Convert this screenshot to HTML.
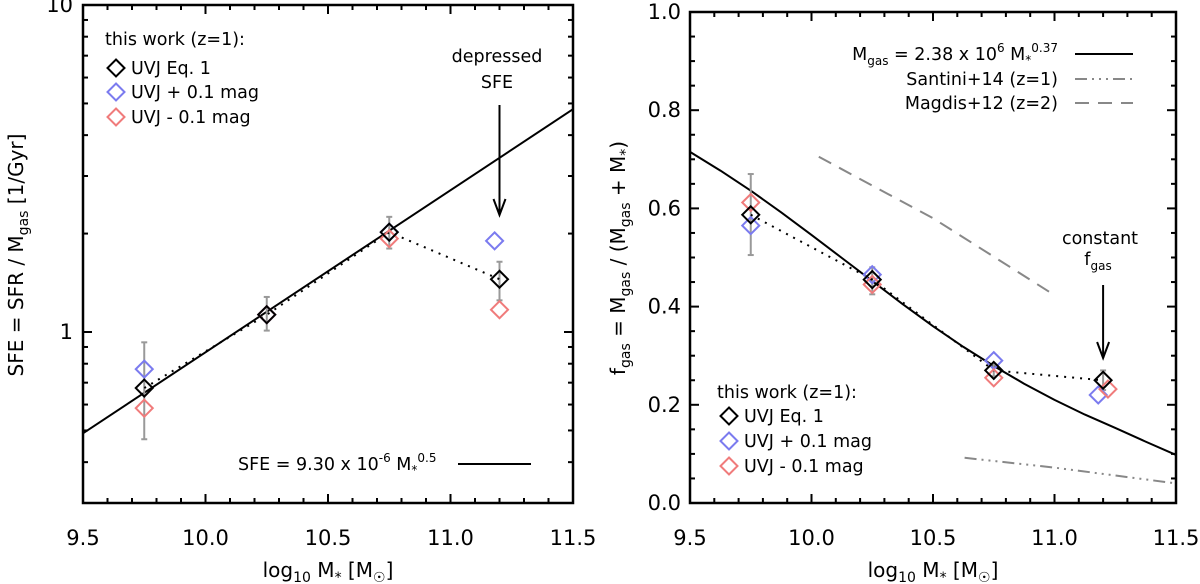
<!DOCTYPE html>
<html><head><meta charset="utf-8"><style>
html,body{margin:0;padding:0;background:#fff;}
svg{display:block;font-family:"DejaVu Sans","Liberation Sans",sans-serif;}
</style></head><body>
<svg id="c" width="1200" height="584" viewBox="0 0 1200 584" xmlns="http://www.w3.org/2000/svg">
<g id="left"></g>
<g id="right"></g>
<text transform="translate(23,255) rotate(-90)" text-anchor="middle" font-size="20">SFE = SFR / M<tspan font-size="14" dy="5">gas</tspan><tspan dy="-5"> [1/Gyr]</tspan></text>
<text x="328" y="577" text-anchor="middle" font-size="20">log<tspan font-size="14" dy="5">10</tspan><tspan dy="-5"> M</tspan><tspan font-size="14" dy="5">*</tspan><tspan dy="-5"> [M</tspan><tspan font-size="14" dy="5">☉</tspan><tspan dy="-5">]</tspan></text>
<text x="105" y="45" font-size="17.5">this work (z=1):</text>
<text x="131" y="74" font-size="17.5">UVJ Eq. 1</text>
<text x="131" y="98" font-size="17.5">UVJ + 0.1 mag</text>
<text x="131" y="123" font-size="17.5">UVJ - 0.1 mag</text>
<text x="497" y="62" text-anchor="middle" font-size="17.5">depressed</text>
<text x="497" y="88" text-anchor="middle" font-size="17.5">SFE</text>
<text x="238" y="470" font-size="17.5">SFE = 9.30 x 10<tspan font-size="12" dy="-8">-6</tspan><tspan dy="8"> M</tspan><tspan font-size="12" dy="4">*</tspan><tspan font-size="12" dy="-12">0.5</tspan></text>
<line x1="458" y1="464" x2="531" y2="464" stroke="#000" stroke-width="2"/>
<text transform="translate(625,258) rotate(-90)" text-anchor="middle" font-size="20">f<tspan font-size="14" dy="5">gas</tspan><tspan dy="-5"> = M</tspan><tspan font-size="14" dy="5">gas</tspan><tspan dy="-5"> / (M</tspan><tspan font-size="14" dy="5">gas</tspan><tspan dy="-5"> + M</tspan><tspan font-size="14" dy="5">*</tspan><tspan dy="-5">)</tspan></text>
<text x="933" y="577" text-anchor="middle" font-size="20">log<tspan font-size="14" dy="5">10</tspan><tspan dy="-5"> M</tspan><tspan font-size="14" dy="5">*</tspan><tspan dy="-5"> [M</tspan><tspan font-size="14" dy="5">☉</tspan><tspan dy="-5">]</tspan></text>
<text x="1058" y="60" text-anchor="end" font-size="17.5">M<tspan font-size="12" dy="5">gas</tspan><tspan dy="-5"> = 2.38 x 10</tspan><tspan font-size="12" dy="-8">6</tspan><tspan dy="8"> M</tspan><tspan font-size="12" dy="4">*</tspan><tspan font-size="12" dy="-12">0.37</tspan></text>
<text x="1058" y="85" text-anchor="end" font-size="17.5">Santini+14 (z=1)</text>
<text x="1058" y="109" text-anchor="end" font-size="17.5">Magdis+12 (z=2)</text>
<line x1="1075" y1="54" x2="1133" y2="54" stroke="#000" stroke-width="2"/>
<line x1="1075" y1="79" x2="1133" y2="79" stroke="#888" stroke-width="2" stroke-dasharray="12,5,2,5,2,5,2,5"/>
<line x1="1075" y1="103" x2="1133" y2="103" stroke="#888" stroke-width="2" stroke-dasharray="14,9"/>
<text x="717" y="398" font-size="17.5">this work (z=1):</text>
<text x="744" y="422" font-size="17.5">UVJ Eq. 1</text>
<text x="744" y="447" font-size="17.5">UVJ + 0.1 mag</text>
<text x="744" y="472" font-size="17.5">UVJ - 0.1 mag</text>
<text x="1100" y="244" text-anchor="middle" font-size="17.5">constant</text>
<text x="1098" y="265" text-anchor="middle" font-size="17.5">f<tspan font-size="12" dy="5">gas</tspan></text>
</svg>
<script>
const massBins = [9.75, 10.25, 10.75, 11.2];
const sfeBlack = [0.674, 1.13, 2.02, 1.45];
const sfeErrLo = [0.47, 1.01, 1.80, 1.25];
const sfeErrHi = [0.93, 1.28, 2.25, 1.64];
const sfeBlueX = [9.75, 10.25, 10.75, 11.18];
const sfeBlue = [0.77, 1.13, 2.02, 1.90];
const sfeRedX = [9.75, 10.25, 10.75, 11.2];
const sfeRed = [0.585, 1.13, 1.93, 1.17];
const sfeFitX = [9.5, 11.5];
const sfeFitY = [0.49, 4.8];
const sfeYTicks = [1, 10];
const sfeYTickLabels = ["1", "10"];

const fgasBlack = [0.587, 0.455, 0.27, 0.25];
const fgasErrLo = [0.505, 0.425, 0.258, 0.23];
const fgasErrHi = [0.67, 0.48, 0.282, 0.27];
const fgasBlueX = [9.75, 10.25, 10.75, 11.18];
const fgasBlue = [0.565, 0.465, 0.29, 0.22];
const fgasRedX = [9.75, 10.25, 10.75, 11.22];
const fgasRed = [0.612, 0.445, 0.255, 0.232];
const fitCurveX = [9.5, 9.625, 9.75, 9.875, 10.0, 10.125, 10.25, 10.375, 10.5, 10.625, 10.75, 10.875, 11.0, 11.125, 11.25, 11.375, 11.5];
const fitCurveY = [0.715, 0.677, 0.636, 0.592, 0.546, 0.499, 0.452, 0.405, 0.36, 0.318, 0.279, 0.243, 0.21, 0.18, 0.153, 0.125, 0.098];
const magdisX = [10.03, 10.5, 10.985];
const magdisY = [0.705, 0.58, 0.428];
const santiniX = [10.63, 11.0, 11.5];
const santiniY = [0.092, 0.072, 0.04];
const fgasYTicks = [0, 0.2, 0.4, 0.6, 0.8, 1.0];
const fgasYTickLabels = ["0.0", "0.2", "0.4", "0.6", "0.8", "1.0"];
const xTicks = [9.5, 10.0, 10.5, 11.0, 11.5];
const xTickLabels = ["9.5", "10.0", "10.5", "11.0", "11.5"];

const NS = "http://www.w3.org/2000/svg";
function mk(parent, tag, attrs) {
  const e = document.createElementNS(NS, tag);
  for (const k in attrs) e.setAttribute(k, attrs[k]);
  parent.appendChild(e);
  return e;
}
const BLUE = "#7b7bef", RED = "#f07b7b";

const L = {x0: 83, x1: 573, y0: 5, y1: 503};
const lx = v => L.x0 + (v - 9.5) / 2 * (L.x1 - L.x0);
const ly = v => L.y1 - (Math.log10(v) - Math.log10(0.3)) / (Math.log10(10) - Math.log10(0.3)) * (L.y1 - L.y0);
const R = {x0: 690, x1: 1176, y0: 12, y1: 503};
const rx = v => R.x0 + (v - 9.5) / 2 * (R.x1 - R.x0);
const ry = v => R.y1 - v * (R.y1 - R.y0);

function frame(g, P, xf, name) {
  const r = mk(g, "rect", {x: P.x0, y: P.y0, width: P.x1 - P.x0, height: P.y1 - P.y0, fill: "none", stroke: "#000", "stroke-width": 2.5});
  
  
  for (let i = 0; i <= 20; i++) {
    const v = 9.5 + i * 0.1, X = xf(v), len = (i % 5 === 0) ? 9 : 5;
    mk(g, "line", {x1: X, y1: P.y1, x2: X, y2: P.y1 - len, stroke: "#000", "stroke-width": 2});
    mk(g, "line", {x1: X, y1: P.y0, x2: X, y2: P.y0 + len, stroke: "#000", "stroke-width": 2});
  }
  xTicks.forEach((v, i) => {
    const t = mk(g, "text", {x: xf(v), y: 545, "text-anchor": "middle", "font-size": 21});
    
    
    t.textContent = xTickLabels[i];
  });
}
function yTick(g, P, Y, len) {
  mk(g, "line", {x1: P.x0, y1: Y, x2: P.x0 + len, y2: Y, stroke: "#000", "stroke-width": 2});
  mk(g, "line", {x1: P.x1, y1: Y, x2: P.x1 - len, y2: Y, stroke: "#000", "stroke-width": 2});
}
function diamond(g, cx, cy, color, name) {
  const s = 8.5;
  const p = mk(g, "polygon", {points: `${cx},${cy - s} ${cx + s},${cy} ${cx},${cy + s} ${cx - s},${cy}`, fill: "none", stroke: color, "stroke-width": 2});
  
  
}
function errbar(g, X, lo, hi) {
  const e = mk(g, "g", {stroke: "#999", "stroke-width": 2});
  
  
  mk(e, "line", {x1: X, y1: lo, x2: X, y2: hi});
  mk(e, "line", {x1: X - 3, y1: lo, x2: X + 3, y2: lo});
  mk(e, "line", {x1: X - 3, y1: hi, x2: X + 3, y2: hi});
}
function poly(g, xs, ys, xf, yf, attrs, name) {
  const pts = xs.map((v, i) => xf(v).toFixed(1) + "," + yf(ys[i]).toFixed(1)).join(" ");
  const p = mk(g, "polyline", Object.assign({points: pts, fill: "none", "stroke-linejoin": "round"}, attrs));
  
  
}
function arrow(g, X, y1, y2, name) {
  const a = mk(g, "g", {stroke: "#000", "stroke-width": 2, fill: "none"});
  
  
  mk(a, "line", {x1: X, y1: y1, x2: X, y2: y2});
  mk(a, "polyline", {points: `${X - 6},${y2 - 16} ${X},${y2} ${X + 6},${y2 - 16}`});
}

const gl = document.getElementById("left");
frame(gl, L, lx, "left");
for (let d = 0.3; d < 10.001; ) {
  const dec = Math.pow(10, Math.floor(Math.log10(d) + 1e-9));
  const major = Math.abs(d - 1) < 1e-6 || Math.abs(d - 10) < 1e-6;
  yTick(gl, L, ly(d), major ? 9 : 5);
  d = Math.round((d + dec) * 1000) / 1000;
}
sfeYTicks.forEach((v, i) => {
  const t = mk(gl, "text", {x: L.x0 - 10, y: ly(v) + 7, "text-anchor": "end", "font-size": 21});
  
  
  t.textContent = sfeYTickLabels[i];
});
poly(gl, sfeFitX, sfeFitY, lx, ly, {stroke: "#000", "stroke-width": 2}, "sfe-fit-line");
massBins.forEach((m, i) => errbar(gl, lx(m), ly(sfeErrLo[i]), ly(sfeErrHi[i])));
poly(gl, massBins, sfeBlack, lx, ly, {stroke: "#000", "stroke-width": 2, "stroke-dasharray": "2,6"}, "sfe-dotted-connector");
sfeBlueX.forEach((m, i) => diamond(gl, lx(m), ly(sfeBlue[i]), BLUE, "sfe-blue-point"));
sfeRedX.forEach((m, i) => diamond(gl, lx(m), ly(sfeRed[i]), RED, "sfe-red-point"));
massBins.forEach((m, i) => diamond(gl, lx(m), ly(sfeBlack[i]), "#000", "sfe-black-point"));
diamond(gl, 116, 68, "#000", "left-legend-black-marker");
diamond(gl, 116, 92, BLUE, "left-legend-blue-marker");
diamond(gl, 116, 117, RED, "left-legend-red-marker");
arrow(gl, lx(11.2), 105, 215, "depressed-sfe-arrow");

const gr = document.getElementById("right");
frame(gr, R, rx, "right");
for (let i = 0; i <= 20; i++) yTick(gr, R, ry(i * 0.05), i % 4 === 0 ? 9 : 5);
fgasYTicks.forEach((v, i) => {
  const t = mk(gr, "text", {x: R.x0 - 9, y: ry(v) + 7, "text-anchor": "end", "font-size": 21});
  
  
  t.textContent = fgasYTickLabels[i];
});
poly(gr, magdisX, magdisY, rx, ry, {stroke: "#888", "stroke-width": 2, "stroke-dasharray": "14,9"}, "magdis-line");
poly(gr, santiniX, santiniY, rx, ry, {stroke: "#888", "stroke-width": 2, "stroke-dasharray": "12,5,2,5,2,5,2,5"}, "santini-line");
poly(gr, fitCurveX, fitCurveY, rx, ry, {stroke: "#000", "stroke-width": 2}, "fgas-fit-curve");
massBins.forEach((m, i) => errbar(gr, rx(m), ry(fgasErrLo[i]), ry(fgasErrHi[i])));
poly(gr, massBins, fgasBlack, rx, ry, {stroke: "#000", "stroke-width": 2, "stroke-dasharray": "2,6"}, "fgas-dotted-connector");
fgasBlueX.forEach((m, i) => diamond(gr, rx(m), ry(fgasBlue[i]), BLUE, "fgas-blue-point"));
fgasRedX.forEach((m, i) => diamond(gr, rx(m), ry(fgasRed[i]), RED, "fgas-red-point"));
massBins.forEach((m, i) => diamond(gr, rx(m), ry(fgasBlack[i]), "#000", "fgas-black-point"));
diamond(gr, 729, 416, "#000", "right-legend-black-marker");
diamond(gr, 729, 441, BLUE, "right-legend-blue-marker");
diamond(gr, 729, 466, RED, "right-legend-red-marker");
arrow(gr, rx(11.2), 285, 358, "constant-fgas-arrow");
</script>
</body></html>
